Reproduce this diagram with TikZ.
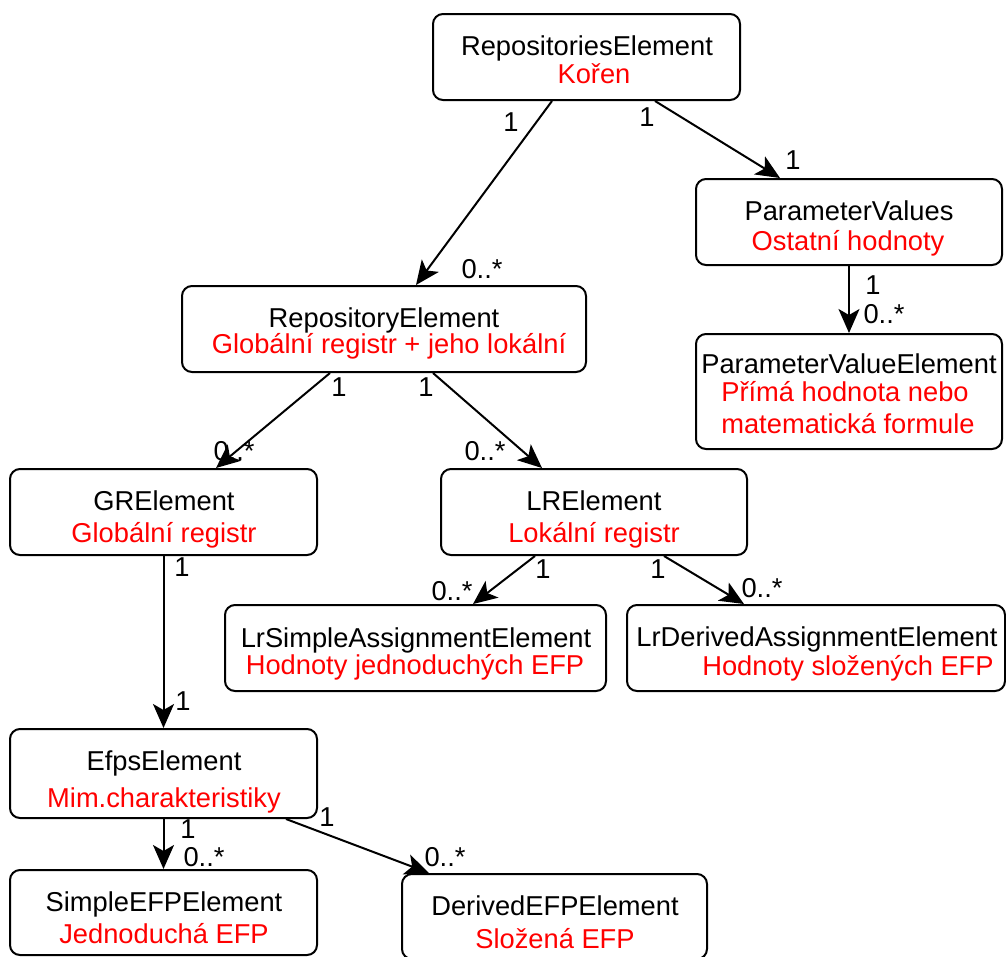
\documentclass[tikz,border=0pt]{standalone}
\usepackage{fontspec}
\setmainfont{Liberation Sans}
\usetikzlibrary{arrows.meta}
\definecolor{subred}{RGB}{255,0,0}
\tikzset{
  cls/.style={draw=black, line width=2pt, rounded corners=10pt, inner sep=0pt,
              minimum width=#1},
  clsname/.style={anchor=base, inner sep=0pt, font=\fontsize{27.3}{31}\selectfont, text=black},
  clsdesc/.style={anchor=base, inner sep=0pt, font=\fontsize{27.3}{31}\selectfont, text=subred},
  mult/.style={inner sep=0pt, font=\fontsize{27.3}{31}\selectfont},
  conn/.style={draw=black, line width=2pt, -{Stealth[length=24pt,width=21pt,inset=6pt]}}
}
\begin{document}
\begin{tikzpicture}[x=1pt,y=-1pt]
\useasboundingbox (0,0) rectangle (1006,956);

% class boxes
\node[cls=307pt, minimum height=86pt] (re)    at (586.5,57)  {};
\node[cls=306pt, minimum height=86pt] (pv)    at (849,222)   {};
\node[cls=306pt, minimum height=115pt] (pve)  at (849,391.5) {};
\node[cls=404pt, minimum height=86pt] (repel) at (384,329)   {};
\node[cls=307pt, minimum height=86pt] (gr)    at (163.5,512) {};
\node[cls=306pt, minimum height=86pt] (lr)    at (594,512)   {};
\node[cls=381pt, minimum height=86pt] (lrs)   at (415.5,648) {};
\node[cls=378pt, minimum height=86pt] (lrd)   at (816,648)   {};
\node[cls=307pt, minimum height=89pt] (efps)  at (163.5,773.5) {};
\node[cls=307pt, minimum height=85pt] (sefp)  at (163.5,912.5) {};
\node[cls=305pt, minimum height=85pt] (defp)  at (554.5,916.5) {};

% class names and descriptions
\node[clsname] (re-a)  at (587,55)  {RepositoriesElement};
\node[clsdesc] (re-b)  at (594,83)  {Kořen};
\node[clsname] (pv-a)  at (849,220) {ParameterValues};
\node[clsdesc] (pv-b)  at (848,250) {Ostatní hodnoty};
\node[clsname] (pve-a) at (849,373) {ParameterValueElement};
\node[clsdesc] (pve-b) at (845,401) {Přímá hodnota nebo};
\node[clsdesc] (pve-c) at (848,433) {matematická formule};
\node[clsname] (repel-a) at (384,327) {RepositoryElement};
\node[clsdesc] (repel-b) at (389,353) {Globální registr + jeho lokální};
\node[clsname] (gr-a)  at (164,510) {GRElement};
\node[clsdesc] (gr-b)  at (164,542) {Globální registr};
\node[clsname] (lr-a)  at (594,510) {LRElement};
\node[clsdesc] (lr-b)  at (594,542) {Lokální registr};
\node[clsname] (lrs-a) at (416,647) {LrSimpleAssignmentElement};
\node[clsdesc] (lrs-b) at (415,674) {Hodnoty jednoduchých EFP};
\node[clsname] (lrd-a) at (817,646) {LrDerivedAssignmentElement};
\node[clsdesc] (lrd-b) at (848,675) {Hodnoty složených EFP};
\node[clsname] (efps-a) at (164,770) {EfpsElement};
\node[clsdesc] (efps-b) at (164,807) {Mim.charakteristiky};
\node[clsname] (sefp-a) at (164,911) {SimpleEFPElement};
\node[clsdesc] (sefp-b) at (164,943) {Jednoduchá EFP};
\node[clsname] (defp-a) at (555,915) {DerivedEFPElement};
\node[clsdesc] (defp-b) at (555,948) {Složená EFP};

% associations
\draw[conn] ([xshift=120pt]re.south west) -- ([xshift=235pt]repel.north west);
\draw[conn] ([xshift=223pt]re.south west) -- ([xshift=85pt]pv.north west);
\draw[conn] (pv.south) -- (pve.north);
\draw[conn] ([xshift=149pt]repel.south west) -- ([xshift=207pt]gr.north west);
\draw[conn] ([xshift=252pt]repel.south west) -- ([xshift=102pt]lr.north west);
\draw[conn] (gr.south) -- (efps.north);
\draw[conn] ([xshift=95pt]lr.south west) -- ([xshift=249pt]lrs.north west);
\draw[conn] ([xshift=224pt]lr.south west) -- ([xshift=118pt]lrd.north west);
\draw[conn] (efps.south) -- (sefp.north);
\draw[conn] ([xshift=277pt]efps.south west) -- ([xshift=28pt]defp.north west);

% multiplicities
\node[mult] (m1)  at (511,122) {1};
\node[mult] (m2)  at (482,269) {0..*};
\node[mult] (m3)  at (647,117) {1};
\node[mult] (m4)  at (793,160) {1};
\node[mult] (m5)  at (873,285) {1};
\node[mult] (m6)  at (884,314) {0..*};
\node[mult] (m7)  at (339,387) {1};
\node[mult] (m8)  at (426,387) {1};
\node[mult] (m9)  at (234,451) {0..*};
\node[mult] (m10) at (485,451) {0..*};
\node[mult] (m11) at (182,567) {1};
\node[mult] (m12) at (543,569) {1};
\node[mult] (m13) at (452,591) {0..*};
\node[mult] (m14) at (658,569) {1};
\node[mult] (m15) at (762,588) {0..*};
\node[mult] (m16) at (183,701) {1};
\node[mult] (m17) at (188,829) {1};
\node[mult] (m18) at (204,857) {0..*};
\node[mult] (m19) at (327,817) {1};
\node[mult] (m20) at (445,857) {0..*};
\end{tikzpicture}
\end{document}
